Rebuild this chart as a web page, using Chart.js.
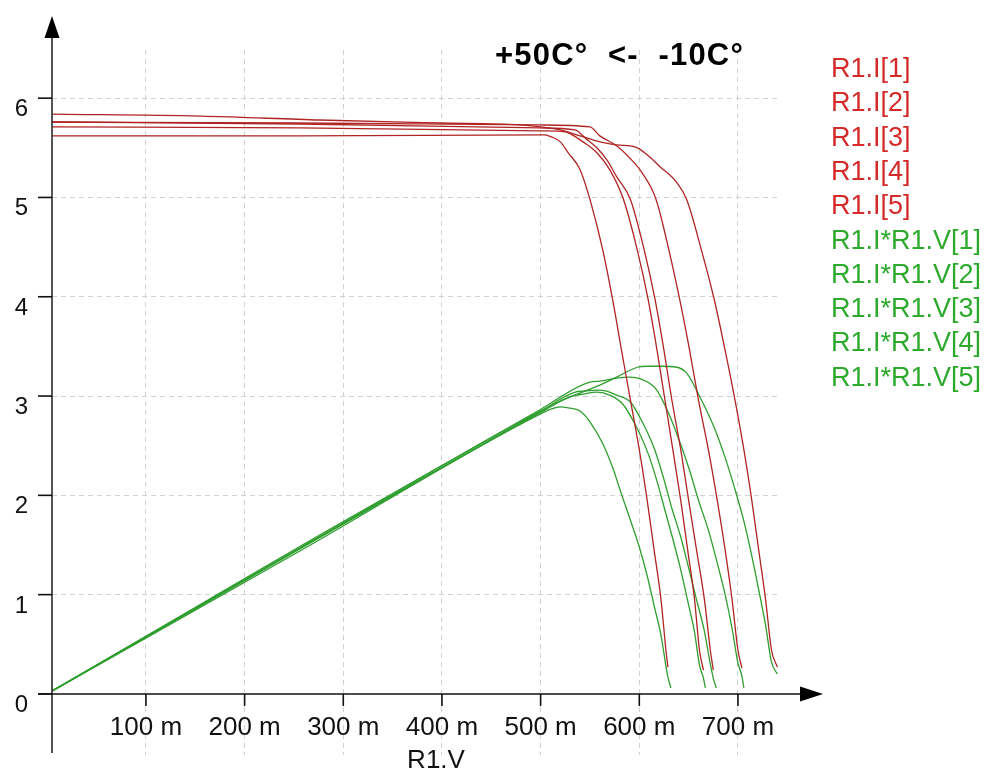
<!DOCTYPE html>
<html>
<head>
<meta charset="utf-8">
<script src="https://cdn.jsdelivr.net/npm/chart.js@4.4.1/dist/chart.umd.min.js"></script>
<style>
  body { margin: 0; background: #fff; }
  canvas { display: block; }
</style>
</head>
<body>
<canvas id="myChart" width="992" height="770"></canvas>
<script>
// tick values + labels
const xTicks = [0.1, 0.2, 0.3, 0.4, 0.5, 0.6, 0.7];
const xTickLabels = ['100 m', '200 m', '300 m', '400 m', '500 m', '600 m', '700 m'];
const yTicks = [0, 1, 2, 3, 4, 5, 6];
const yTickLabels = ['0', '1', '2', '3', '4', '5', '6'];
const xTitle = 'R1.V';
const chartTitle = '+50C°  <-  -10C°';

const currentLabels = ['R1.I[1]', 'R1.I[2]', 'R1.I[3]', 'R1.I[4]', 'R1.I[5]'];
const powerLabels = ['R1.I*R1.V[1]', 'R1.I*R1.V[2]', 'R1.I*R1.V[3]', 'R1.I*R1.V[4]', 'R1.I*R1.V[5]'];

// R1.V sweep (volts) and current
const v1 = [0.005, 0.256, 0.504, 0.511, 0.520, 0.528, 0.540, 0.550, 0.563, 0.573, 0.582, 0.591, 0.600, 0.608, 0.615, 0.622, 0.627, 0.629];
const i1 = [5.62, 5.62, 5.63, 5.61, 5.56, 5.45, 5.28, 4.98, 4.47, 3.97, 3.46, 2.96, 2.46, 1.95, 1.45, 0.95, 0.44, 0.27];
const v2 = [0.005, 0.256, 0.499, 0.525, 0.532, 0.543, 0.557, 0.570, 0.584, 0.598, 0.609, 0.618, 0.626, 0.634, 0.642, 0.649, 0.656, 0.661, 0.665];
const i2 = [5.71, 5.70, 5.67, 5.66, 5.63, 5.56, 5.45, 5.28, 4.98, 4.47, 3.97, 3.46, 2.96, 2.46, 1.95, 1.45, 0.95, 0.44, 0.24];
const v3 = [0.005, 0.256, 0.499, 0.535, 0.545, 0.557, 0.567, 0.577, 0.591, 0.605, 0.616, 0.625, 0.633, 0.642, 0.650, 0.658, 0.666, 0.672, 0.675];
const i3 = [5.76, 5.74, 5.70, 5.68, 5.60, 5.50, 5.38, 5.21, 4.98, 4.47, 3.97, 3.46, 2.96, 2.46, 1.95, 1.45, 0.95, 0.44, 0.24];
const v4 = [0.005, 0.256, 0.499, 0.550, 0.560, 0.577, 0.590, 0.602, 0.617, 0.630, 0.641, 0.651, 0.660, 0.670, 0.679, 0.687, 0.694, 0.700, 0.704];
const i4 = [5.76, 5.75, 5.73, 5.71, 5.62, 5.52, 5.40, 5.26, 4.98, 4.47, 3.97, 3.46, 2.96, 2.46, 1.95, 1.45, 0.95, 0.44, 0.26];
const v5 = [0.005, 0.155, 0.276, 0.398, 0.479, 0.520, 0.540, 0.560, 0.577, 0.598, 0.608, 0.621, 0.638, 0.648, 0.663, 0.676, 0.687, 0.697, 0.706, 0.714, 0.721, 0.728, 0.734, 0.740];
const i5 = [5.84, 5.82, 5.78, 5.75, 5.73, 5.68, 5.62, 5.56, 5.53, 5.50, 5.43, 5.31, 5.15, 4.98, 4.47, 3.97, 3.46, 2.96, 2.46, 1.95, 1.45, 0.95, 0.44, 0.27];

// power curves (green), same sweep plus the last sample near zero
const pv1 = [...v1, 0.632];
const p1 = [0.03, 1.44, 2.84, 2.87, 2.89, 2.88, 2.85, 2.74, 2.52, 2.28, 2.01, 1.75, 1.48, 1.19, 0.89, 0.59, 0.28, 0.17, 0.06];
const pv2 = [...v2, 0.667];
const p2 = [0.03, 1.46, 2.83, 2.97, 3.00, 3.02, 3.04, 3.01, 2.91, 2.67, 2.42, 2.14, 1.85, 1.56, 1.25, 0.94, 0.62, 0.29, 0.16, 0.06];
const pv3 = [...v3, 0.678];
const p3 = [0.03, 1.47, 2.84, 3.04, 3.05, 3.06, 3.05, 3.01, 2.94, 2.70, 2.45, 2.16, 1.87, 1.58, 1.27, 0.95, 0.63, 0.30, 0.16, 0.06];
const pv4 = [...v4, 0.706];
const p4 = [0.03, 1.47, 2.86, 3.14, 3.15, 3.18, 3.19, 3.17, 3.07, 2.82, 2.54, 2.25, 1.95, 1.65, 1.32, 1.00, 0.66, 0.31, 0.18, 0.06];
const pv5 = v5;
const p5 = [0.03, 0.90, 1.60, 2.29, 2.74, 2.95, 3.03, 3.11, 3.19, 3.29, 3.30, 3.30, 3.29, 3.23, 2.96, 2.68, 2.38, 2.06, 1.74, 1.39, 1.05, 0.69, 0.32, 0.20];

const redLine = '#b02424';
const greenLine = '#2f9e2f';
const redText = '#d42a2a';
const greenText = '#2daa2d';
const FONT = '"Liberation Sans", Arial, sans-serif';

function pts(xs, ys) {
  return xs.map((x, k) => ({ x: x, y: ys[k] }));
}

function series(label, xs, ys, color) {
  return {
    label: label,
    data: pts(xs, ys),
    borderColor: color,
    backgroundColor: color,
    borderWidth: 1.3,
    pointRadius: 0,
    showLine: true,
    fill: false,
    cubicInterpolationMode: 'monotone'
  };
}

const iV = [v1, v2, v3, v4, v5];
const iY = [i1, i2, i3, i4, i5];
const pV = [pv1, pv2, pv3, pv4, pv5];
const pY = [p1, p2, p3, p4, p5];

const datasets = [];
currentLabels.forEach((l, k) => datasets.push(series(l, iV[k], iY[k], redLine)));
powerLabels.forEach((l, k) => datasets.push(series(l, pV[k], pY[k], greenLine)));

// axes with arrows, tick labels, title and the text legend
const decor = {
  id: 'decor',
  afterDraw(chart) {
    const ctx = chart.ctx;
    const xs = chart.scales.x, ys = chart.scales.y;
    const ax = xs.left;
    const ay = ys.getPixelForValue(0);
    ctx.save();

    // y axis
    ctx.strokeStyle = '#2a2a2a';
    ctx.lineWidth = 1.6;
    ctx.beginPath();
    ctx.moveTo(ax, ys.bottom - 2);
    ctx.lineTo(ax, 36);
    ctx.stroke();
    ctx.fillStyle = '#000';
    ctx.beginPath();
    ctx.moveTo(ax, 16);
    ctx.lineTo(ax - 7.5, 38);
    ctx.lineTo(ax + 7.5, 38);
    ctx.closePath();
    ctx.fill();

    // x axis
    ctx.strokeStyle = '#111';
    ctx.beginPath();
    ctx.moveTo(38, ay);
    ctx.lineTo(802, ay);
    ctx.stroke();
    ctx.beginPath();
    ctx.moveTo(823, ay);
    ctx.lineTo(800, ay - 7.5);
    ctx.lineTo(800, ay + 7.5);
    ctx.closePath();
    ctx.fill();

    // y ticks
    ctx.font = '24px ' + FONT;
    ctx.textAlign = 'right';
    ctx.textBaseline = 'alphabetic';
    ctx.fillStyle = '#111';
    yTicks.forEach((v, k) => {
      const py = ys.getPixelForValue(v);
      ctx.beginPath();
      ctx.moveTo(38, py);
      ctx.lineTo(ax, py);
      ctx.stroke();
      ctx.fillText(yTickLabels[k], 28, py + 18);
    });

    // x ticks
    ctx.font = '26px ' + FONT;
    ctx.textAlign = 'center';
    xTicks.forEach((v, k) => {
      const px = xs.getPixelForValue(v);
      ctx.beginPath();
      ctx.moveTo(px, ay);
      ctx.lineTo(px, ay + 12);
      ctx.stroke();
      ctx.fillText(xTickLabels[k], px, ay + 41);
    });
    ctx.fillText(xTitle, 436, 768);

    // title
    ctx.font = 'bold 31px ' + FONT;
    ctx.textAlign = 'left';
    ctx.letterSpacing = '1.2px';
    ctx.fillStyle = '#000';
    ctx.fillText(chartTitle, 495, 65);
    ctx.letterSpacing = '0px';

    // legend (text only)
    ctx.font = '27px ' + FONT;
    chart.data.datasets.forEach((ds, k) => {
      ctx.fillStyle = k < 5 ? redText : greenText;
      ctx.fillText(ds.label, 831, 77 + k * 34.3);
    });

    ctx.restore();
  }
};

const ctx = document.getElementById('myChart');

new Chart(ctx, {
  type: 'scatter',
  data: { datasets: datasets },
  options: {
    responsive: false,
    animation: false,
    devicePixelRatio: 1,
    layout: { padding: { left: 52, top: 50, right: 212, bottom: 15 } },
    plugins: {
      legend: { display: false },
      tooltip: { enabled: false }
    },
    scales: {
      x: {
        type: 'linear',
        min: 0.0048,
        max: 0.7426,
        afterFit: s => { s.height = 0; },
        afterBuildTicks: s => { s.ticks = xTicks.map(v => ({ value: v })); },
        ticks: { display: false },
        grid: { color: '#d2d2d2', lineWidth: 1, drawTicks: false },
        border: { display: false, dash: [5, 4] }
      },
      y: {
        type: 'linear',
        min: -0.615,
        max: 6.485,
        afterFit: s => { s.width = 0; },
        afterBuildTicks: s => { s.ticks = yTicks.filter(v => v > 0).map(v => ({ value: v })); },
        ticks: { display: false },
        grid: { color: '#d2d2d2', lineWidth: 1, drawTicks: false },
        border: { display: false, dash: [5, 4] }
      }
    }
  },
  plugins: [decor]
});
</script>
</body>
</html>
